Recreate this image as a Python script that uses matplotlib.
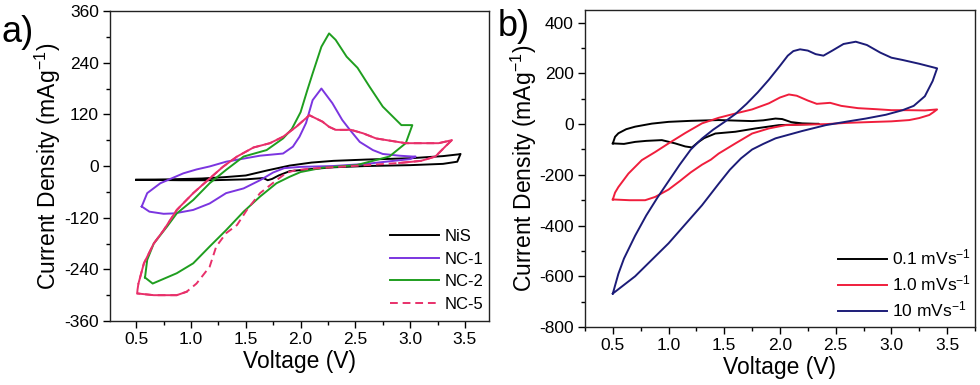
import numpy as np
from matplotlib import pyplot as plt
from matplotlib.ticker import MultipleLocator

plt.rcParams['font.family'] = ['Liberation Sans', 'DejaVu Sans']
plt.rcParams['mathtext.default'] = 'regular'
plt.rcParams['axes.unicode_minus'] = False

# ---- panel a) : CV of the four electrodes ----
nis_v = [0.5, 0.8, 1.1, 1.3, 1.5, 1.7, 1.9, 2.1, 2.3, 2.6, 3.0, 3.3, 3.44, 3.46,
         3.43, 3.3, 3.0, 2.6, 2.3, 2.1, 1.9, 1.8, 1.74, 1.7, 1.66, 1.5, 1.2, 0.9, 0.5]
nis_i = [-32, -31, -29, -26, -22, -10, 1, 8, 12, 15, 18, 23, 27, 28,
         10, 5, 2, 0, -3, -7, -12, -22, -30, -33, -28, -31, -33, -33, -32]

nc1_v = [0.55, 0.6, 0.72, 0.93, 1.05, 1.17, 1.32, 1.63, 1.84, 1.93, 1.99, 2.05, 2.11, 2.19,
         2.29, 2.38, 2.45, 2.54, 2.66, 2.75, 2.9, 3.02, 3.05,
         3.0, 2.85, 2.6, 2.3, 2.0, 1.85, 1.75, 1.63, 1.48, 1.32, 1.17, 1.02, 0.85, 0.75, 0.62, 0.55]
nc1_i = [-94, -63, -40, -17, -8, -1, 10, 24, 29, 45, 68, 100, 153, 180,
         146, 107, 84, 56, 37, 28, 24, 22, 22,
         16, 12, 5, 0, -2, -5, -15, -33, -52, -63, -87, -102, -110, -111, -106, -94]

nc2_v = [0.58, 0.6, 0.66, 0.78, 0.87, 1.02, 1.17, 1.32, 1.48, 1.69, 1.84, 1.92, 2.0, 2.06,
         2.11, 2.19, 2.26, 2.32, 2.42, 2.52, 2.63, 2.75, 2.92, 3.02,
         2.96, 2.81, 2.51, 2.2, 2.0, 1.9, 1.78, 1.63, 1.48, 1.32, 1.17, 1.02, 0.87, 0.65, 0.58]
nc2_i = [-259, -218, -180, -141, -110, -79, -40, -9, 22, 37, 64, 86, 125, 175,
         215, 277, 308, 293, 254, 228, 184, 138, 95, 95,
         53, 22, 2, -4, -14, -25, -40, -71, -106, -149, -187, -226, -249, -273, -259]

nc5_v = [0.51, 0.52, 0.57, 0.66, 0.75, 0.87, 1.02, 1.17, 1.29, 1.42, 1.57, 1.72, 1.84, 1.96,
         2.08, 2.2, 2.26, 2.32, 2.46, 2.57, 2.69, 2.96, 3.26, 3.38,
         3.32, 3.23, 3.1, 2.9, 2.6, 2.35, 2.1, 1.95, 1.87, 1.78, 1.63, 1.51, 1.42, 1.32, 1.23,
         1.17, 1.05, 0.96, 0.87, 0.66, 0.51, 0.51]
nc5_i = [-290, -273, -226, -180, -149, -102, -63, -29, -2, 22, 43, 53, 68, 91,
         118, 103, 91, 84, 84, 76, 64, 53, 53, 60,
         45, 22, 12, 7, 2, -2, -6, -10, -16, -33, -63, -102, -137, -156, -187,
         -234, -273, -292, -300, -300, -296, -290]

# ---- panel b) : NC-2 at three scan rates ----
r01_v = [0.5, 0.52, 0.55, 0.62, 0.7, 0.85, 1.0, 1.2, 1.45, 1.75, 1.85, 1.96, 2.02, 2.1, 2.2, 2.35,
         2.2, 1.99, 1.78, 1.6, 1.42, 1.32, 1.27, 1.21, 1.15, 1.06, 0.94, 0.8, 0.7, 0.6, 0.5]
r01_i = [-76, -50, -36, -20, -10, 2, 9, 13, 16, 12, 15, 22, 20, 8, 3, 1,
         -1, -4, -17, -30, -37, -55, -70, -92, -88, -76, -63, -66, -70, -78, -76]

r1_v = [0.5, 0.52, 0.55, 0.64, 0.76, 0.88, 1.0, 1.15, 1.3, 1.45, 1.6, 1.75, 1.9, 2.0, 2.08, 2.15,
        2.25, 2.33, 2.45, 2.55, 2.7, 2.86, 3.0, 3.16, 3.3, 3.41,
        3.38, 3.34, 3.25, 3.16, 3.0, 2.86, 2.6, 2.41, 2.2, 2.05, 1.9, 1.75, 1.6, 1.45, 1.38, 1.3,
        1.2, 1.1, 1.0, 0.88, 0.79, 0.65, 0.5]
r1_i = [-297, -270, -248, -195, -142, -110, -76, -35, 3, 25, 42, 58, 82, 105, 117, 112,
        93, 80, 84, 72, 63, 59, 55, 55, 54, 58,
        48, 36, 24, 16, 11, 9, 5, 0, -2, -4, -17, -37, -76, -116, -140, -160,
        -190, -225, -258, -287, -300, -300, -297]

r10_v = [0.5, 0.55, 0.6, 0.7, 0.8, 0.9, 1.0, 1.1, 1.2, 1.25, 1.3, 1.4, 1.5, 1.6, 1.7, 1.8,
         1.9, 2.0, 2.07, 2.12, 2.18, 2.25, 2.32, 2.39, 2.47, 2.57, 2.68, 2.78, 2.9, 3.0, 3.1,
         3.25, 3.41,
         3.37, 3.3, 3.2, 3.1, 2.95, 2.77, 2.6, 2.41, 2.2, 1.96, 1.85, 1.75, 1.65, 1.55, 1.45,
         1.3, 1.15, 1.0, 0.85, 0.7, 0.5]
r10_i = [-668, -590, -530, -440, -360, -290, -225, -160, -100, -78, -57, -22, 8, 40, 80, 125,
         175, 230, 270, 288, 295, 290, 276, 270, 290, 316, 325, 312, 282, 262, 253,
         238, 220,
         170, 110, 72, 55, 37, 22, 10, -4, -27, -56, -78, -100, -135, -180, -235,
         -320, -395, -470, -535, -600, -668]


def style_axes(ax):
    for s in ax.spines.values():
        s.set_linewidth(1.0)
        s.set_color('#222222')
    ax.xaxis.set_major_locator(MultipleLocator(0.5))
    ax.xaxis.set_minor_locator(MultipleLocator(0.25))
    ax.tick_params(which='major', direction='out', length=5, width=1.0,
                   labelsize=12.5, pad=3, top=False, right=False)
    ax.tick_params(which='minor', direction='out', length=3, width=1.0,
                   top=False, right=False)
    ax.set_xlabel('Voltage (V)', fontsize=16.5, labelpad=2)
    ax.set_ylabel('Current Density (mAg$^{-1}$)', fontsize=16.5, labelpad=0.5)


fig = plt.figure(figsize=(9.8, 3.85), dpi=100)

ax1 = fig.add_axes([0.1122, 0.1662, 0.3868, 0.8052])
ax1.plot(nis_v, nis_i, color='black', lw=1.4, label='NiS')
ax1.plot(nc1_v, nc1_i, color='#7b35e0', lw=1.4, label='NC-1')
ax1.plot(nc2_v, nc2_i, color='#1f9e1f', lw=1.4, label='NC-2')
ax1.plot(nc5_v, nc5_i, color='#e8306a', lw=1.4, ls=(0, (4, 2.5)), label='NC-5')
# most of the NC-5 trace is drawn solid, only the lower-left part is dashed
ax1.plot(nc5_v[1:28], nc5_i[1:28], color='#e8306a', lw=1.4)
ax1.plot(nc5_v[41:45], nc5_i[41:45], color='#e8306a', lw=1.4)
ax1.set_xlim(0.26, 3.72)
ax1.set_ylim(-360, 360)
ax1.yaxis.set_major_locator(MultipleLocator(120))
ax1.yaxis.set_minor_locator(MultipleLocator(60))
style_axes(ax1)
ax1.legend(loc='lower right', bbox_to_anchor=(0.985, 0.03), frameon=False,
           fontsize=12, handlelength=2.9, handletextpad=0.35, labelspacing=0.45,
           borderpad=0, borderaxespad=0)

ax2 = fig.add_axes([0.5969, 0.1506, 0.3980, 0.8234])
ax2.plot(r01_v, r01_i, color='black', lw=1.4, label='0.1 mVs$^{-1}$')
ax2.plot(r1_v, r1_i, color='#f01e3c', lw=1.4, label='1.0 mVs$^{-1}$')
ax2.plot(r10_v, r10_i, color='#1c1c78', lw=1.4, label='10 mVs$^{-1}$')
ax2.set_xlim(0.25, 3.75)
ax2.set_ylim(-800, 450)
ax2.yaxis.set_major_locator(MultipleLocator(200))
ax2.yaxis.set_minor_locator(MultipleLocator(100))
style_axes(ax2)
ax2.legend(loc='lower right', bbox_to_anchor=(0.99, 0.023), frameon=False,
           fontsize=12.5, handlelength=2.8, handletextpad=0.3, labelspacing=0.35,
           borderpad=0, borderaxespad=0)

fig.text(0.002, 0.915, 'a)', fontsize=26, va='center', ha='left')
fig.text(0.508, 0.93, 'b)', fontsize=26, va='center', ha='left')

plt.savefig('out.png', dpi=100)
